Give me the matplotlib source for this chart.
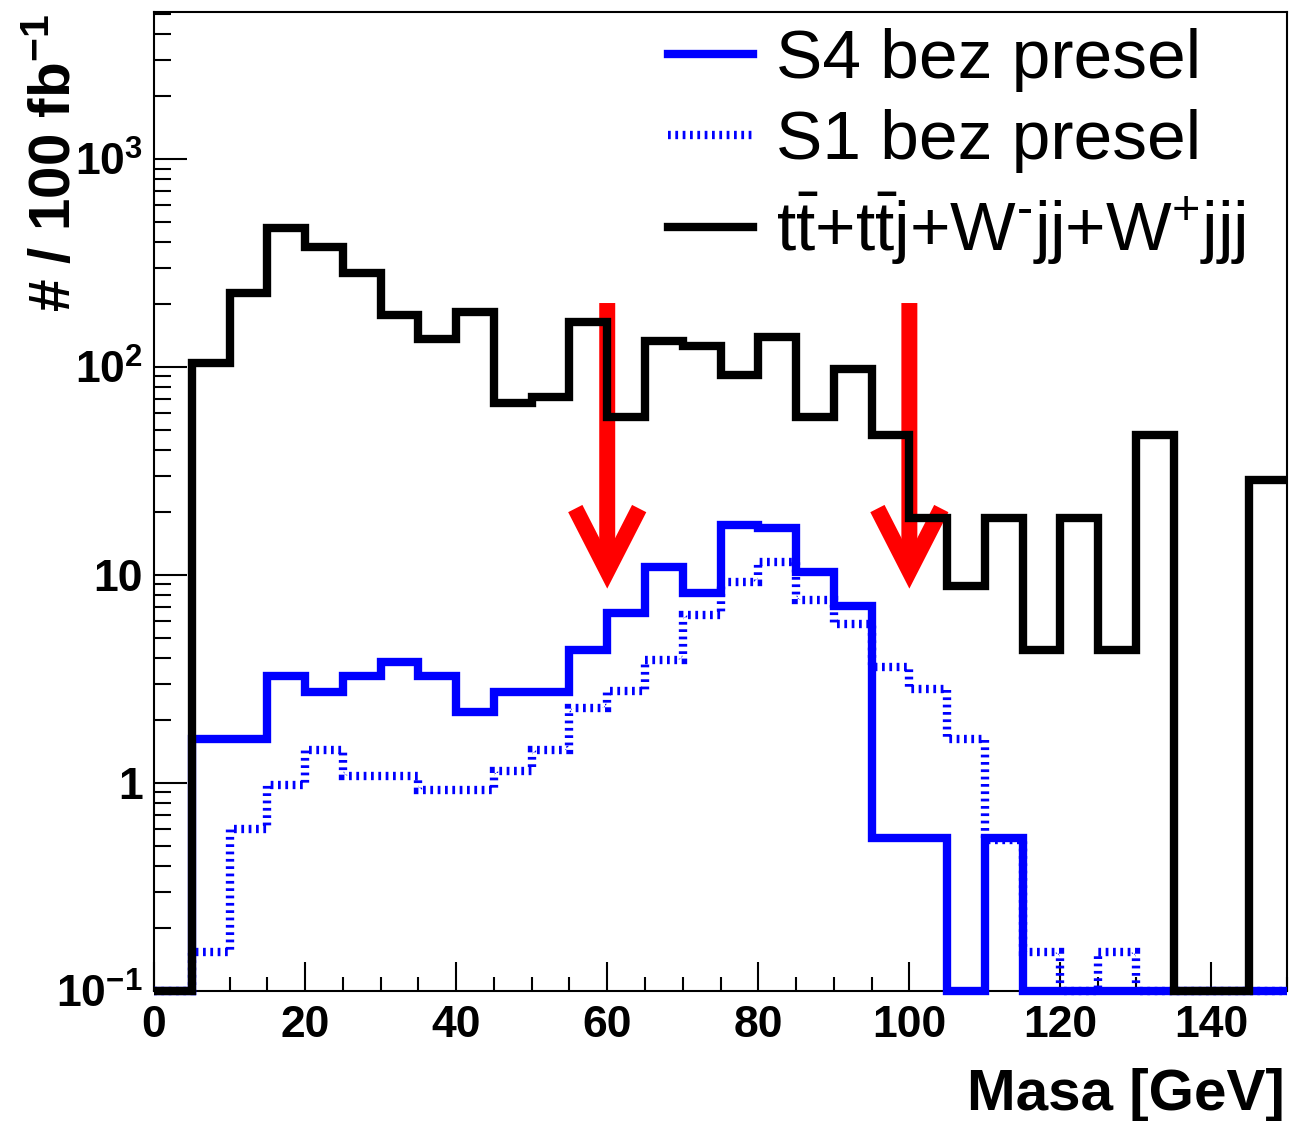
import matplotlib
matplotlib.use("Agg")
import matplotlib.pyplot as plt
from matplotlib.ticker import FixedLocator, MultipleLocator, LogLocator, NullFormatter
import numpy as np

plt.rcParams["font.family"] = "Liberation Sans"
plt.rcParams["mathtext.fontset"] = "custom"
plt.rcParams["mathtext.rm"] = "Liberation Sans"
plt.rcParams["mathtext.it"] = "Liberation Sans"
plt.rcParams["mathtext.bf"] = "Liberation Sans:bold"

# 5 GeV bins, 0-150 GeV
BIN_EDGES = list(range(0, 155, 5))

# events / 100 fb^-1 per bin (0 = empty bin, drawn on the axis floor)
BKG = [0, 104, 227, 465, 378, 283, 178, 136, 184, 67, 72, 164, 57.5, 133, 126,
       91.6, 139, 57.5, 97.7, 47, 18.8, 8.85, 18.8, 4.36, 18.8, 4.36, 47, 0, 0, 28.6]
S4 = [0, 1.63, 1.63, 3.27, 2.74, 3.27, 3.82, 3.27, 2.19, 2.74, 2.74, 4.36, 6.56, 10.9, 8.18,
      17.4, 16.8, 10.3, 7.1, 0.544, 0.544, 0, 0.544, 0, 0, 0, 0, 0, 0, 0]
S1 = [0, 0.154, 0.60, 0.98, 1.44, 1.08, 1.08, 0.925, 0.925, 1.14, 1.44, 2.29, 2.77, 3.9, 6.43,
      9.25, 11.5, 7.59, 5.8, 3.61, 2.83, 1.63, 0.53, 0.154, 0, 0.154, 0, 0, 0, 0]

LABELS = ["S4 bez presel", "S1 bez presel",
          r"$\mathregular{t\bar{t}{+}t\bar{t}j{+}W^{\text{-}}jj{+}W^{+}jjj}$"]
CUTS = [60, 100]  # mass window marked by arrows

YMIN, YMAX = 0.1, 5090
YTICKS = [0.1, 1, 10, 100, 1000]
YTICKLABELS = [r"$\mathbf{10^{-1}}$", "1", "10", r"$\mathbf{10^{2}}$", r"$\mathbf{10^{3}}$"]

fig = plt.figure(figsize=(12.9, 11.21), dpi=100)
ax = fig.add_axes([0.1194, 0.116, 0.8783, 0.8733])
ax.set_yscale("log")
ax.set_xlim(0, 150)
ax.set_ylim(YMIN, YMAX)

edges = np.array(BIN_EDGES)
h1 = ax.stairs(np.maximum(S1, YMIN), edges, baseline=None, color="blue", lw=6,
               linestyle=(0, (0.33, 0.55)), clip_on=False, zorder=3)
h4 = ax.stairs(np.maximum(S4, YMIN), edges, baseline=None, color="blue", lw=6,
               clip_on=False, zorder=4)
hb = ax.stairs(np.maximum(BKG, YMIN), edges, baseline=None, color="black", lw=6,
               clip_on=False, zorder=5)

for c in CUTS:
    ann = ax.annotate("", xy=(c, 8.6), xytext=(c, 203),
                      arrowprops=dict(arrowstyle="->,head_length=2.25,head_width=1.15",
                                      lw=11.5, color="red", shrinkA=0, shrinkB=0,
                                      mutation_scale=20),
                      zorder=2)
    ann.arrow_patch.set_capstyle("butt")
    ann.arrow_patch.set_joinstyle("miter")

ax.yaxis.set_major_locator(FixedLocator(YTICKS))
ax.set_yticklabels(YTICKLABELS)
ax.yaxis.set_minor_locator(LogLocator(base=10, subs=np.arange(2, 10)))
ax.yaxis.set_minor_formatter(NullFormatter())
ax.xaxis.set_major_locator(MultipleLocator(20))
ax.xaxis.set_minor_locator(MultipleLocator(5))

ax.tick_params(axis="both", which="both", direction="in", top=False, right=False,
               width=1.5, colors="black")
ax.tick_params(axis="y", which="major", length=24, pad=8, labelsize=32)
ax.tick_params(axis="y", which="minor", length=12)
ax.tick_params(axis="x", which="major", length=21, pad=10, labelsize=32)
ax.tick_params(axis="x", which="minor", length=10)
for lab in ax.get_xticklabels() + ax.get_yticklabels():
    lab.set_fontweight("bold")
for s in ax.spines.values():
    s.set_linewidth(1.5)

fig.text(0.996, 0.0098, "Masa [GeV]", ha="right", va="baseline", fontsize=42,
         fontweight="bold")
fig.text(0.043, 0.987, r"# / 100 fb$^{\mathbf{-1}}$", rotation=90, ha="center", va="top",
         fontsize=42, fontweight="bold")

leg = ax.legend([h4, h1, hb], LABELS, loc="upper left", bbox_to_anchor=(668 / 1290, 1 - 28 / 1121),
                bbox_transform=fig.transFigure, frameon=False, fontsize=50,
                handlelength=1.22, handletextpad=0.33, borderpad=0, borderaxespad=0,
                labelspacing=0.25)
for ln in leg.get_lines():
    ln.set_linewidth(6)

fig.savefig("out.png", dpi=100, facecolor="white")
